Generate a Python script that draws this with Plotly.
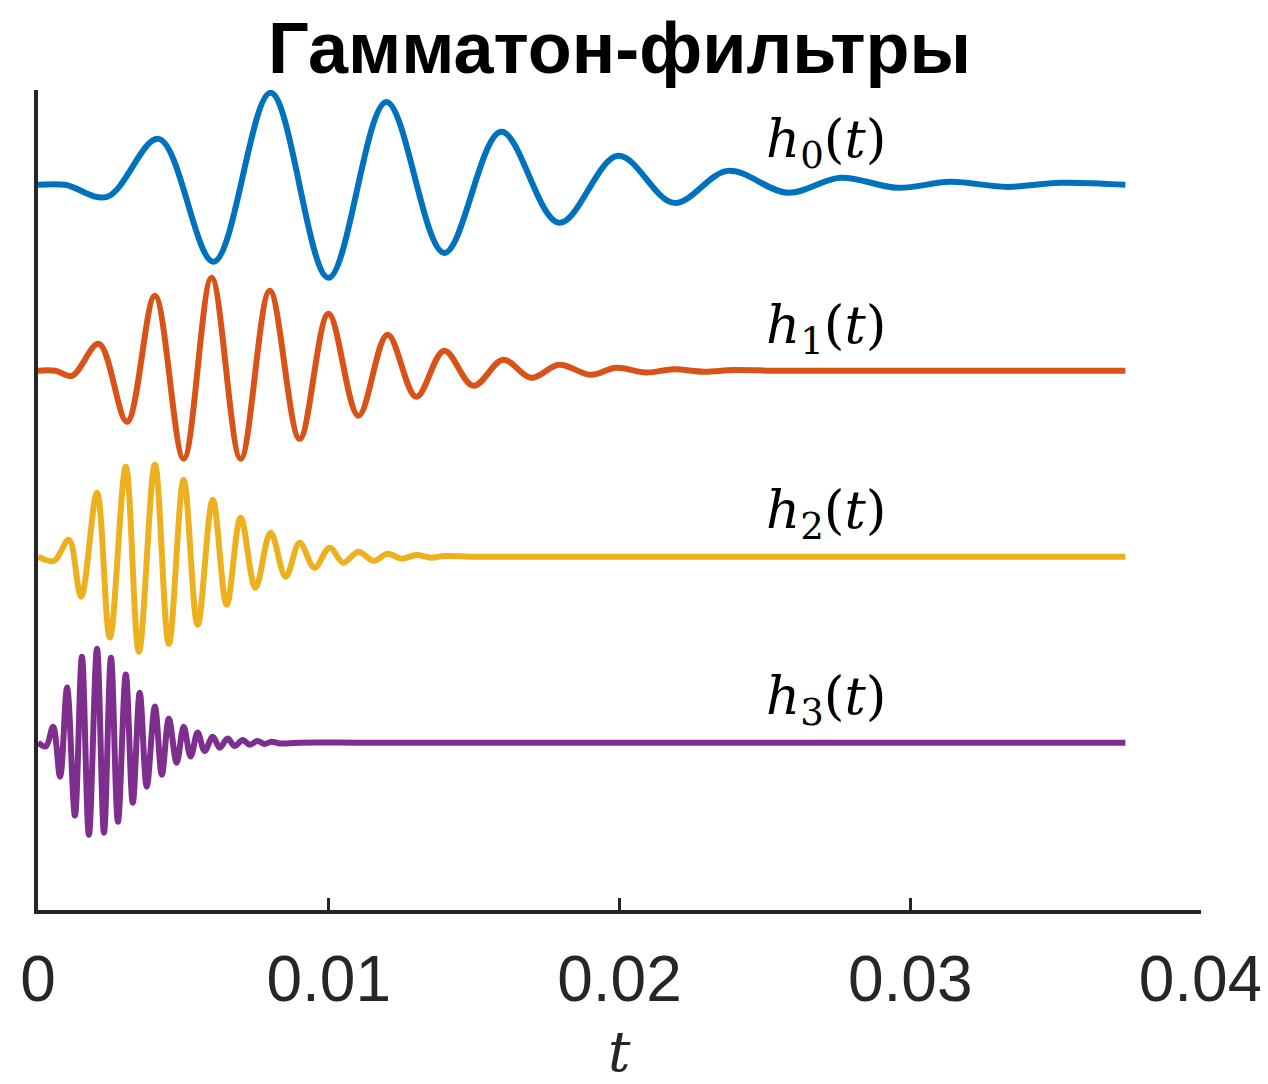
import numpy as np
import plotly.graph_objects as go

# ---- data (time in ms, amplitude in channel units) ----
t_h0 = [0, 0.93, 2.37, 4.15, 6.04, 8.0, 9.99, 11.98, 13.97, 15.93, 17.92, 19.95,
        21.87, 23.73, 25.79, 27.6, 29.56, 31.38, 33.34, 35.16, 37.4]
v_h0 = [0, 0, -0.065, 0.247, -0.414, 0.495, -0.5, 0.446, -0.366, 0.285, -0.204, 0.156,
        -0.097, 0.075, -0.043, 0.038, -0.016, 0.016, -0.011, 0.011, 0]

t_h1 = [0, 0.6, 1.17, 2.09, 3.06, 4.02, 5.01, 5.97, 6.97, 7.97, 9.0, 9.99, 11.02,
        12.02, 13.01, 13.97, 14.97, 16.0, 16.96, 17.92, 19.02, 19.88, 20.91, 21.87,
        22.9, 23.93, 25.5, 28.0, 31.0, 34.0, 37.4]
v_h1 = [0, 0, -0.027, 0.145, -0.274, 0.403, -0.473, 0.5, -0.473, 0.43, -0.366, 0.306,
        -0.242, 0.194, -0.14, 0.108, -0.081, 0.059, -0.038, 0.032, -0.022, 0.016,
        -0.009, 0.008, -0.005, 0.004, 0, 0, 0, 0, 0]

t_h2 = [0, 0.55, 1.06, 1.48, 2.03, 2.47, 3.02, 3.47, 4.02, 4.5, 5.01, 5.49, 6.01,
        6.49, 6.97, 7.48, 8.0, 8.52, 9.0, 9.51, 10.03, 10.5, 11.02, 11.54, 12.02,
        12.5, 13.01, 13.53, 13.97, 15.0, 17.0, 20.0, 24.0, 28.0, 32.0, 37.4]
v_h2 = [0, -0.022, 0.091, -0.215, 0.344, -0.435, 0.484, -0.511, 0.495, -0.468, 0.414,
        -0.366, 0.306, -0.258, 0.21, -0.167, 0.129, -0.108, 0.075, -0.059, 0.048,
        -0.032, 0.027, -0.022, 0.016, -0.011, 0.009, -0.005, 0.004, 0, 0, 0, 0, 0, 0, 0]

t_h3 = [0, 0.27, 0.52, 0.76, 1.0, 1.27, 1.51, 1.75, 2.03, 2.27, 2.51, 2.75, 3.02,
        3.26, 3.5, 3.74, 4.02, 4.26, 4.5, 4.77, 5.01, 5.25, 5.49, 5.73, 6.01, 6.25,
        6.52, 6.76, 7.04, 7.28, 7.55, 7.79, 8.03, 8.3, 9.0, 11.0, 14.0, 18.0, 22.0,
        26.0, 30.0, 34.0, 37.4]
v_h3 = [0, -0.02, 0.086, -0.183, 0.296, -0.392, 0.462, -0.495, 0.505, -0.484, 0.457,
        -0.425, 0.366, -0.323, 0.269, -0.237, 0.194, -0.172, 0.129, -0.108, 0.086,
        -0.075, 0.054, -0.045, 0.032, -0.027, 0.022, -0.018, 0.014, -0.011, 0.009,
        -0.007, 0.005, -0.004, 0, 0, 0, 0, 0, 0, 0, 0, 0]

series_names = ["h0", "h1", "h2", "h3"]
series_t = [t_h0, t_h1, t_h2, t_h3]
series_v = [v_h0, v_h1, v_h2, v_h3]
offsets = [0, -1, -2, -3]
label_html = ["<i>h</i><sub>0</sub>(<i>t</i>)", "<i>h</i><sub>1</sub>(<i>t</i>)",
              "<i>h</i><sub>2</sub>(<i>t</i>)", "<i>h</i><sub>3</sub>(<i>t</i>)"]
x_ticks = [0, 0.01, 0.02, 0.03, 0.04]
x_tick_text = ["0", "0.01", "0.02", "0.03", "0.04"]
title_text = "Гамматон-фильтры"

colors = ["#0072BD", "#D95319", "#EDB120", "#7E2F8E"]
axis_color = "#262626"

fig = go.Figure()
for name, t, v, off, c in zip(series_names, series_t, series_v, offsets, colors):
    fig.add_trace(go.Scatter(
        x=np.array(t) / 1000.0, y=np.array(v) + off, mode="lines", name=name,
        line=dict(color=c, width=6, shape="spline", smoothing=1.0),
        hoverinfo="skip", showlegend=False))

for lab, off in zip(label_html, offsets):
    fig.add_annotation(x=0.0271, y=off + 0.23, text=lab, showarrow=False,
                       xanchor="center", yanchor="middle",
                       font=dict(family="DejaVu Serif, Liberation Serif, serif",
                                 size=53, color="#000000"))

fig.add_annotation(xref="paper", yref="paper", x=0.5, y=-0.172, text="<i>t</i>",
                   showarrow=False, xanchor="center", yanchor="middle",
                   font=dict(family="DejaVu Serif, Liberation Serif, serif",
                             size=56, color=axis_color))

fig.update_layout(
    width=1268, height=1084,
    paper_bgcolor="white", plot_bgcolor="white",
    margin=dict(l=28, r=75, t=82, b=182),
    title=dict(text=f"<b>{title_text}</b>", x=0.5, xref="paper", xanchor="center",
               y=1 - 40 / 1084, yref="container", yanchor="middle",
               font=dict(family="Liberation Sans, Arial, sans-serif", size=72,
                         color="#000000")),
    xaxis=dict(range=[0, 0.04], tickvals=x_ticks, ticktext=x_tick_text,
               showgrid=False, zeroline=False, showline=True, linecolor=axis_color,
               linewidth=4, ticks="inside", ticklen=12, tickwidth=3,
               tickcolor=axis_color, ticklabelstandoff=10,
               tickfont=dict(family="Liberation Sans, Arial, sans-serif", size=64,
                             color=axis_color)),
    yaxis=dict(range=[-3.9, 0.51], showgrid=False, zeroline=False, showline=True,
               linecolor=axis_color, linewidth=4, showticklabels=False, ticks=""),
)

fig.write_html("out.html")
